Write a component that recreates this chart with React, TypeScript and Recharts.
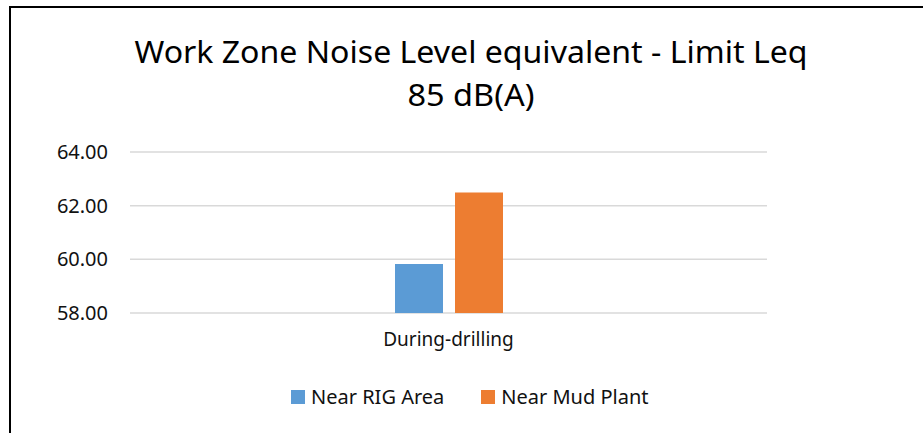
import React from "react"
import { BarChart, Bar, XAxis, YAxis, CartesianGrid } from "recharts"

const categories = ["During-drilling"]
const nearRig = [59.83]
const nearMud = [62.49]
const yTicks = [58, 60, 62, 64]
const titleLines = ["Work Zone Noise Level equivalent - Limit Leq", "85 dB(A)"]
const seriesNames = ["Near RIG Area", "Near Mud Plant"]
const seriesColors = ["#5b9bd5", "#ed7d31"]

const data = categories.map((c, i) => ({ name: c, rig: nearRig[i], mud: nearMud[i] }))

const FONT = "'Noto Sans', 'Open Sans', sans-serif"

export default function App() {
  return (
    <div style={{ position: "absolute", left: 0, top: 0, width: 923, height: 433, background: "#fff", overflow: "hidden" }}>
      {/* frame: top + left edges only */}
      <div style={{ position: "absolute", left: 9, top: 6, width: 920, height: 440, borderTop: "2px solid #000", borderLeft: "2px solid #000" }} />
      <BarChart
        width={923}
        height={433}
        data={data}
        margin={{ top: 152, right: 156, bottom: 80, left: 30 }}
        barSize={48}
        barGap={12}
        style={{ position: "absolute", left: 0, top: 0 }}
      >
        <CartesianGrid vertical={false} stroke="#d9d9d9" strokeWidth={1.5} />
        <XAxis
          dataKey="name"
          axisLine={false}
          tickLine={false}
          tickSize={0}
          tickMargin={20}
          height={40}
          tick={{ fill: "#111", fontSize: 19, fontFamily: FONT }}
        />
        <YAxis
          domain={[58, 64]}
          ticks={yTicks}
          axisLine={false}
          tickLine={false}
          tickSize={0}
          tickMargin={22}
          width={100}
          tickFormatter={(v: number) => v.toFixed(2)}
          tick={{ fill: "#111", fontSize: 20, fontFamily: FONT }}
        />
        <Bar dataKey="rig" name={seriesNames[0]} fill={seriesColors[0]} isAnimationActive={false} />
        <Bar dataKey="mud" name={seriesNames[1]} fill={seriesColors[1]} isAnimationActive={false} />
      </BarChart>
      {/* legend */}
      <div style={{ position: "absolute", left: 291, top: 384, display: "flex", gap: 37, fontFamily: FONT, fontSize: 20, color: "#111", lineHeight: "26px" }}>
        {seriesNames.map((n, i) => (
          <div key={n} style={{ display: "flex", alignItems: "center", gap: 6 }}>
            <div style={{ width: 14, height: 14, background: seriesColors[i] }} />
            <span>{n}</span>
          </div>
        ))}
      </div>
      <svg width={923} height={130} style={{ position: "absolute", left: 0, top: 0 }}>
        <text x={471} y={63} textAnchor="middle" fontFamily={FONT} fontSize={31} fill="#000" textLength={673} lengthAdjust="spacingAndGlyphs">
          {titleLines[0]}
        </text>
        <text x={471} y={106} textAnchor="middle" fontFamily={FONT} fontSize={31} fill="#000" textLength={127} lengthAdjust="spacingAndGlyphs">
          {titleLines[1]}
        </text>
      </svg>
    </div>
  )
}
